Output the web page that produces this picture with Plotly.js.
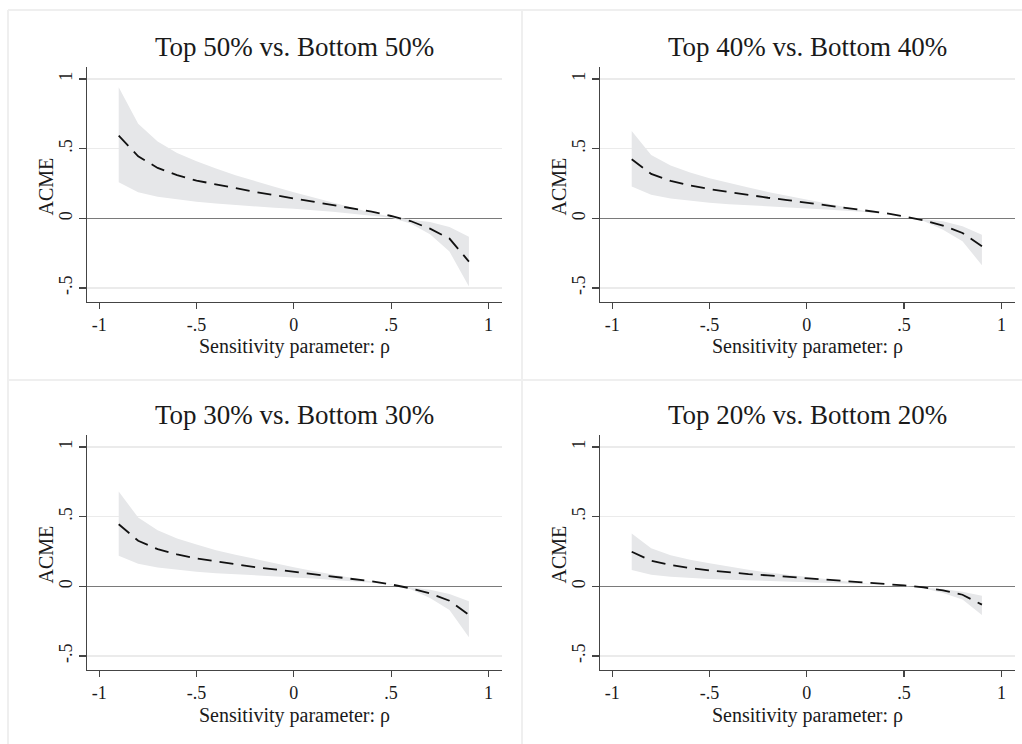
<!DOCTYPE html>
<html>
<head>
<meta charset="utf-8">
<script src="https://cdn.plot.ly/plotly-3.0.1.min.js"></script>
<style>html,body{margin:0;padding:0;background:#fff;}#chart{width:1022px;height:744px;}</style>
</head>
<body>
<div id="chart"></div>
<script>
// Sensitivity parameter rho
const rho = [-0.9,-0.8,-0.7,-0.6,-0.5,-0.4,-0.3,-0.2,-0.1,0,0.1,0.2,0.3,0.4,0.5,0.6,0.7,0.8,0.9];

const panelTitles = ["Top 50% vs. Bottom 50%","Top 40% vs. Bottom 40%","Top 30% vs. Bottom 30%","Top 20% vs. Bottom 20%"];
const xTitle = "Sensitivity parameter: ρ";
const yTitle = "ACME";

// Top 50% vs Bottom 50%
const acme50  = [0.593,0.445,0.362,0.310,0.271,0.243,0.217,0.190,0.167,0.143,0.119,0.098,0.074,0.048,0.017,-0.019,-0.074,-0.145,-0.310];
const upper50 = [0.940,0.679,0.552,0.469,0.410,0.357,0.310,0.267,0.226,0.188,0.150,0.114,0.079,0.041,0.012,-0.010,-0.026,-0.062,-0.131];
const lower50 = [0.260,0.188,0.155,0.136,0.119,0.107,0.095,0.086,0.076,0.069,0.060,0.048,0.033,0.017,0.005,-0.036,-0.114,-0.238,-0.488];

// Top 40% vs Bottom 40%
const acme40  = [0.424,0.319,0.269,0.236,0.210,0.188,0.167,0.148,0.131,0.112,0.095,0.076,0.060,0.038,0.014,-0.014,-0.052,-0.105,-0.200];
const upper40 = [0.626,0.455,0.379,0.329,0.288,0.252,0.221,0.190,0.162,0.133,0.105,0.079,0.052,0.029,0.010,-0.007,-0.021,-0.057,-0.117];
const lower40 = [0.229,0.169,0.143,0.126,0.112,0.102,0.093,0.086,0.079,0.071,0.064,0.055,0.045,0.031,0.014,-0.019,-0.081,-0.164,-0.336];

// Top 30% vs Bottom 30%
const acme30  = [0.446,0.327,0.267,0.229,0.200,0.179,0.158,0.138,0.122,0.105,0.088,0.072,0.055,0.036,0.014,-0.014,-0.050,-0.103,-0.205];
const upper30 = [0.680,0.494,0.403,0.344,0.301,0.260,0.227,0.196,0.167,0.138,0.110,0.084,0.057,0.031,0.010,-0.007,-0.024,-0.055,-0.107];
const lower30 = [0.220,0.162,0.136,0.119,0.105,0.095,0.086,0.079,0.072,0.064,0.057,0.048,0.038,0.026,0.014,-0.021,-0.084,-0.169,-0.365];

// Top 20% vs Bottom 20%
const acme20  = [0.248,0.184,0.153,0.131,0.115,0.100,0.088,0.079,0.069,0.060,0.050,0.041,0.031,0.019,0.007,-0.007,-0.029,-0.060,-0.131];
const upper20 = [0.379,0.274,0.224,0.191,0.165,0.141,0.119,0.100,0.084,0.067,0.050,0.036,0.021,0.010,0.002,-0.007,-0.019,-0.038,-0.067];
const lower20 = [0.117,0.084,0.069,0.060,0.053,0.048,0.043,0.038,0.033,0.031,0.026,0.021,0.017,0.012,0.007,-0.014,-0.048,-0.095,-0.205];

const xTickVals = [-1,-0.5,0,0.5,1];
const xTickText = ["-1","-.5","0",".5","1"];
const yTickVals = [-0.5,0,0.5,1];
const yTickText = ["-.5","0",".5","1"];

const panels = [
  {acme: acme50, up: upper50, lo: lower50},
  {acme: acme40, up: upper40, lo: lower40},
  {acme: acme30, up: upper30, lo: lower30},
  {acme: acme20, up: upper20, lo: lower20}
];

const W = 1022, H = 744;
const FONT = "Liberation Serif, Times New Roman, serif";
// pixel boxes of plot areas [left, right, top, bottom]
const boxes = [
  [87, 502, 67, 302],
  [600, 1015, 67, 302],
  [87, 502, 435, 670],
  [600, 1015, 435, 670]
];

const traces = [];
const layout = {
  width: W, height: H,
  margin: {l:0, r:0, t:0, b:0},
  paper_bgcolor: "#ffffff",
  plot_bgcolor: "#ffffff",
  showlegend: false,
  font: {family: FONT, color: "#1a1a1a"},
  annotations: [],
  shapes: []
};

panels.forEach((p, i) => {
  const n = i === 0 ? "" : String(i + 1);
  const xa = "x" + n, ya = "y" + n;
  traces.push({x: rho, y: p.lo, xaxis: xa, yaxis: ya, type: "scatter", mode: "lines",
    line: {width: 0, color: "rgba(0,0,0,0)"}, hoverinfo: "skip"});
  traces.push({x: rho, y: p.up, xaxis: xa, yaxis: ya, type: "scatter", mode: "lines",
    fill: "tonexty", fillcolor: "#e6e7e9", line: {width: 0, color: "rgba(0,0,0,0)"}, hoverinfo: "skip"});
  traces.push({x: rho, y: p.acme, xaxis: xa, yaxis: ya, type: "scatter", mode: "lines",
    line: {color: "#111111", width: 1.8, dash: "14px,8px"}});

  const b = boxes[i];
  layout["xaxis" + n] = {
    domain: [b[0] / W, b[1] / W], anchor: ya,
    range: [-1.063, 1.07],
    tickvals: xTickVals, ticktext: xTickText,
    ticks: "outside", ticklen: 6, tickwidth: 1.2, tickcolor: "#444",
    showline: true, linecolor: "#444", linewidth: 1.2,
    showgrid: false, zeroline: false,
    tickfont: {family: FONT, size: 18, color: "#1a1a1a"},
    fixedrange: true
  };
  layout["yaxis" + n] = {
    domain: [1 - b[3] / H, 1 - b[2] / H], anchor: xa,
    range: [-0.6, 1.086],
    tickvals: yTickVals, ticktext: yTickText, tickangle: -90,
    ticks: "outside", ticklen: 7, tickwidth: 1.2, tickcolor: "#444",
    showline: true, linecolor: "#444", linewidth: 1.2,
    showgrid: true, gridcolor: "#ebebeb", gridwidth: 1.5,
    zeroline: true, zerolinecolor: "#7a7a7a", zerolinewidth: 1,
    tickfont: {family: FONT, size: 18, color: "#1a1a1a"},
    fixedrange: true
  };
  // panel title
  layout.annotations.push({
    text: panelTitles[i], xref: "paper", yref: "paper",
    x: (b[0] + b[1]) / 2 / W, y: 1 - (b[2] - 20) / H,
    xanchor: "center", yanchor: "middle", showarrow: false,
    font: {family: FONT, size: 27, color: "#1a1a1a"}
  });
  // x axis title
  layout.annotations.push({
    text: xTitle, xref: "paper", yref: "paper",
    x: (b[0] + b[1]) / 2 / W, y: 1 - (b[3] + 45) / H,
    xanchor: "center", yanchor: "middle", showarrow: false,
    font: {family: FONT, size: 20, color: "#1a1a1a"}
  });
  // y axis title
  layout.annotations.push({
    text: yTitle, xref: "paper", yref: "paper", textangle: -90,
    x: (b[0] - 42) / W, y: 1 - ((b[2] + b[3]) / 2 + 2) / H,
    xanchor: "center", yanchor: "middle", showarrow: false,
    font: {family: FONT, size: 20, color: "#1a1a1a"}
  });
});

// light panel frames (graph combine)
const frameColor = "#efefef";
[[8, 10, 8, H], [522, 10, 522, H], [8, 10, W, 10], [8, 380, W, 380]].forEach(s => {
  layout.shapes.push({type: "line", xref: "paper", yref: "paper",
    x0: s[0] / W, y0: 1 - s[1] / H, x1: s[2] / W, y1: 1 - s[3] / H,
    line: {color: frameColor, width: 2}, layer: "below"});
});

Plotly.newPlot("chart", traces, layout, {staticPlot: true, displayModeBar: false});
</script>
</body>
</html>
